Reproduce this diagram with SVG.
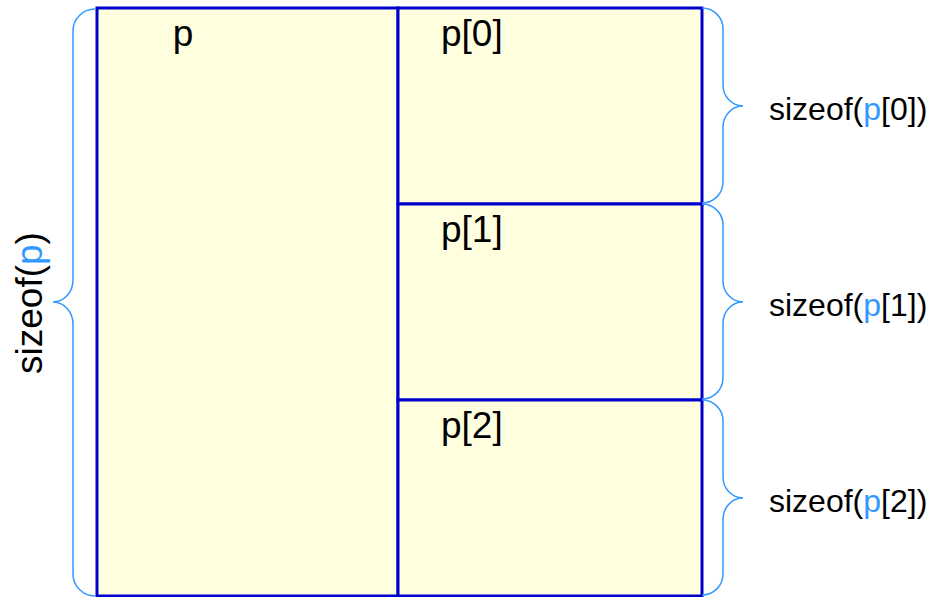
<svg xmlns="http://www.w3.org/2000/svg" width="930" height="597" viewBox="0 0 930 597">
<style>
.box{fill:#ffffe0;stroke:#0000cc;stroke-width:3}
.brace{fill:none;stroke:#3399ff;stroke-width:1.5}
.lbl{font-family:"Liberation Sans",Arial,sans-serif;font-size:37px;fill:#000}
.side{font-family:"Liberation Sans",Arial,sans-serif;font-size:32px;fill:#000}
.hl{fill:#3399ff}
</style>
<g id="node-p">
<rect class="box" x="97" y="8" width="301" height="588"/>
<text class="lbl" x="183" y="46" text-anchor="middle">p</text>
</g>
<g id="node-p0">
<rect class="box" x="398" y="8" width="304" height="196"/>
<text class="lbl" x="441" y="46">p[0]</text>
</g>
<g id="node-p1">
<rect class="box" x="398" y="204" width="304" height="196"/>
<text class="lbl" x="441" y="242">p[1]</text>
</g>
<g id="node-p2">
<rect class="box" x="398" y="400" width="304" height="196"/>
<text class="lbl" x="441" y="438">p[2]</text>
</g>
<g id="connectors">
<path class="brace" d="M95,9 A22,22 0 0 0 73,31 L73,280 A20,22 0 0 1 53,302 A20,22 0 0 1 73,324 L73,574 A22,22 0 0 0 95,596"/>
<path class="brace" d="M702,8 A21,21 0 0 1 723,29 L723,85 A20,21 0 0 0 743,106 A20,21 0 0 0 723,127 L723,182 A21,21 0 0 1 702,203"/>
<path class="brace" d="M702,204 A21,21 0 0 1 723,225 L723,281 A20,21 0 0 0 743,302 A20,21 0 0 0 723,323 L723,378 A21,21 0 0 1 702,399"/>
<path class="brace" d="M702,400 A21,21 0 0 1 723,421 L723,477 A20,21 0 0 0 743,498 A20,21 0 0 0 723,519 L723,574 A21,21 0 0 1 702,595"/>
</g>
<g id="label-sizeof-p">
<text class="lbl" transform="translate(42,303) rotate(-90)" text-anchor="middle">sizeof(<tspan class="hl">p</tspan>)</text>
</g>
<g id="label-sizeof-p0">
<text class="side" x="769" y="120">sizeof(<tspan class="hl">p</tspan>[0])</text>
</g>
<g id="label-sizeof-p1">
<text class="side" x="769" y="316">sizeof(<tspan class="hl">p</tspan>[1])</text>
</g>
<g id="label-sizeof-p2">
<text class="side" x="769" y="512">sizeof(<tspan class="hl">p</tspan>[2])</text>
</g>
</svg>
